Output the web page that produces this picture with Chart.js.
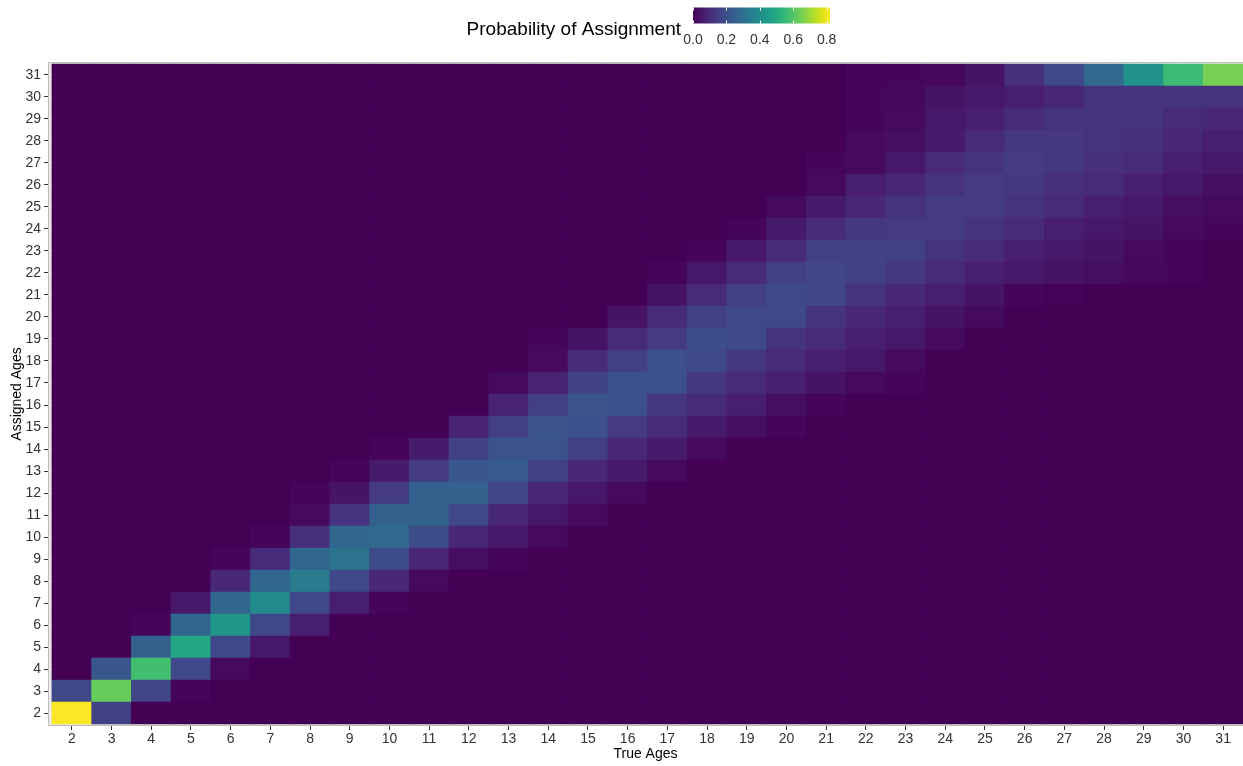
<!DOCTYPE html>
<html>
<head>
<meta charset="utf-8">
<script src="https://cdn.jsdelivr.net/npm/chart.js@4.4.1/dist/chart.umd.min.js"></script>
<style>
  html, body { margin: 0; padding: 0; background: #ffffff; }
  #wrap { width: 1243px; height: 766px; }
</style>
</head>
<body>
<div id="wrap"><canvas id="heat" width="1243" height="766"></canvas></div>
<script>
// Axis categories
const trueAges     = [2,3,4,5,6,7,8,9,10,11,12,13,14,15,16,17,18,19,20,21,22,23,24,25,26,27,28,29,30,31];
const assignedAges = [2,3,4,5,6,7,8,9,10,11,12,13,14,15,16,17,18,19,20,21,22,23,24,25,26,27,28,29,30,31];
const legendTicks  = [0, 0.2, 0.4, 0.6, 0.8];

// P(assigned age | true age): one array per true age, entries for assigned ages 2..31
//                  2..11                                                  12..21                                                  22..31
const pTrue02 = [0.82,0.18,0,0,0,0,0,0,0,0,                           0,0,0,0,0,0,0,0,0,0,                                      0,0,0,0,0,0,0,0,0,0];
const pTrue03 = [0.15,0.63,0.22,0,0,0,0,0,0,0,                        0,0,0,0,0,0,0,0,0,0,                                      0,0,0,0,0,0,0,0,0,0];
const pTrue04 = [0,0.17,0.57,0.25,0.01,0,0,0,0,0,                     0,0,0,0,0,0,0,0,0,0,                                      0,0,0,0,0,0,0,0,0,0];
const pTrue05 = [0,0.01,0.18,0.49,0.27,0.05,0,0,0,0,                  0,0,0,0,0,0,0,0,0,0,                                      0,0,0,0,0,0,0,0,0,0];
const pTrue06 = [0,0,0.02,0.18,0.43,0.27,0.09,0.01,0,0,               0,0,0,0,0,0,0,0,0,0,                                      0,0,0,0,0,0,0,0,0,0];
const pTrue07 = [0,0,0,0.05,0.18,0.39,0.27,0.10,0.01,0,               0,0,0,0,0,0,0,0,0,0,                                      0,0,0,0,0,0,0,0,0,0];
const pTrue08 = [0,0,0,0,0.07,0.18,0.34,0.27,0.11,0.02,               0.01,0,0,0,0,0,0,0,0,0,                                   0,0,0,0,0,0,0,0,0,0];
const pTrue09 = [0,0,0,0,0,0.07,0.18,0.31,0.27,0.12,                  0.04,0.01,0,0,0,0,0,0,0,0,                                0,0,0,0,0,0,0,0,0,0];
const pTrue10 = [0,0,0,0,0,0.01,0.09,0.19,0.28,0.25,                  0.14,0.06,0.01,0,0,0,0,0,0,0,                             0,0,0,0,0,0,0,0,0,0];
const pTrue11 = [0,0,0,0,0,0,0.02,0.09,0.19,0.26,                     0.25,0.14,0.06,0,0,0,0,0,0,0,                             0,0,0,0,0,0,0,0,0,0];
const pTrue12 = [0,0,0,0,0,0,0,0.03,0.09,0.18,                        0.25,0.22,0.15,0.08,0,0,0,0,0,0,                          0,0,0,0,0,0,0,0,0,0];
const pTrue13 = [0,0,0,0,0,0,0,0.01,0.05,0.09,                        0.17,0.23,0.21,0.15,0.08,0.02,0,0,0,0,                    0,0,0,0,0,0,0,0,0,0];
const pTrue14 = [0,0,0,0,0,0,0,0,0.02,0.05,                           0.09,0.16,0.21,0.21,0.15,0.08,0.02,0.01,0,0,              0,0,0,0,0,0,0,0,0,0];
const pTrue15 = [0,0,0,0,0,0,0,0,0,0.02,                              0.05,0.09,0.15,0.20,0.21,0.16,0.10,0.04,0,0,              0,0,0,0,0,0,0,0,0,0];
const pTrue16 = [0,0,0,0,0,0,0,0,0,0,                                 0.02,0.06,0.09,0.14,0.20,0.20,0.15,0.10,0.04,0,           0,0,0,0,0,0,0,0,0,0];
const pTrue17 = [0,0,0,0,0,0,0,0,0,0,                                 0,0.02,0.06,0.10,0.13,0.20,0.20,0.14,0.10,0.04,           0.01,0,0,0,0,0,0,0,0,0];
const pTrue18 = [0,0,0,0,0,0,0,0,0,0,                                 0,0,0.02,0.06,0.10,0.13,0.18,0.19,0.15,0.10,              0.05,0.01,0,0,0,0,0,0,0,0];
const pTrue19 = [0,0,0,0,0,0,0,0,0,0,                                 0,0,0,0.03,0.07,0.10,0.13,0.18,0.18,0.15,                 0.10,0.05,0.01,0,0,0,0,0,0,0];
const pTrue20 = [0,0,0,0,0,0,0,0,0,0,                                 0,0,0,0.01,0.03,0.07,0.10,0.12,0.18,0.18,                 0.15,0.10,0.06,0.02,0,0,0,0,0,0];
const pTrue21 = [0,0,0,0,0,0,0,0,0,0,                                 0,0,0,0,0.01,0.04,0.07,0.10,0.12,0.17,                    0.17,0.15,0.10,0.06,0.02,0.01,0,0,0,0];
const pTrue22 = [0,0,0,0,0,0,0,0,0,0,                                 0,0,0,0,0,0.02,0.05,0.07,0.09,0.12,                       0.16,0.16,0.13,0.09,0.07,0.02,0.02,0.01,0.01,0.01];
const pTrue23 = [0,0,0,0,0,0,0,0,0,0,                                 0,0,0,0,0,0.01,0.02,0.05,0.07,0.09,                       0.13,0.15,0.14,0.12,0.09,0.05,0.03,0.02,0.015,0.01];
const pTrue24 = [0,0,0,0,0,0,0,0,0,0,                                 0,0,0,0,0,0,0,0.02,0.04,0.07,                             0.10,0.12,0.14,0.14,0.12,0.10,0.06,0.05,0.04,0.015];
const pTrue25 = [0,0,0,0,0,0,0,0,0,0,                                 0,0,0,0,0,0,0,0,0.02,0.04,                                0.07,0.10,0.12,0.14,0.14,0.12,0.10,0.07,0.05,0.04];
const pTrue26 = [0,0,0,0,0,0,0,0,0,0,                                 0,0,0,0,0,0,0,0,0,0.01,                                   0.05,0.07,0.10,0.12,0.13,0.14,0.13,0.10,0.07,0.11];
const pTrue27 = [0,0,0,0,0,0,0,0,0,0,                                 0,0,0,0,0,0,0,0,0,0.005,                                  0.04,0.05,0.07,0.10,0.11,0.13,0.13,0.12,0.09,0.18];
const pTrue28 = [0,0,0,0,0,0,0,0,0,0,                                 0,0,0,0,0,0,0,0,0,0,                                      0.03,0.04,0.05,0.07,0.10,0.11,0.12,0.12,0.12,0.28];
const pTrue29 = [0,0,0,0,0,0,0,0,0,0,                                 0,0,0,0,0,0,0,0,0,0,                                      0.015,0.02,0.04,0.05,0.07,0.10,0.11,0.12,0.12,0.41];
const pTrue30 = [0,0,0,0,0,0,0,0,0,0,                                 0,0,0,0,0,0,0,0,0,0,                                      0.01,0.01,0.02,0.03,0.05,0.07,0.09,0.10,0.12,0.56];
const pTrue31 = [0,0,0,0,0,0,0,0,0,0,                                 0,0,0,0,0,0,0,0,0,0,                                      0,0,0.01,0.02,0.03,0.05,0.07,0.09,0.12,0.65];

const columns = [pTrue02,pTrue03,pTrue04,pTrue05,pTrue06,pTrue07,pTrue08,pTrue09,pTrue10,pTrue11,
                 pTrue12,pTrue13,pTrue14,pTrue15,pTrue16,pTrue17,pTrue18,pTrue19,pTrue20,pTrue21,
                 pTrue22,pTrue23,pTrue24,pTrue25,pTrue26,pTrue27,pTrue28,pTrue29,pTrue30,pTrue31];
const maxP = Math.max(...columns.flat());

// Viridis palette, evenly spaced stops
const viridisStops = ['#440154','#471365','#482475','#463480','#414487','#3b528b','#355f8d',
                      '#2f6c8e','#2a788e','#25848e','#21918c','#1e9c89','#22a884','#2fb47c',
                      '#44bf70','#5ec962','#7ad151','#9bd93c','#bddf26','#dfe318','#fde725'];
const stopRgb = viridisStops.map(h => [1,3,5].map(i => parseInt(h.substr(i, 2), 16)));
function viridis(t) {
  t = Math.max(0, Math.min(1, t));
  const pos = t * (stopRgb.length - 1);
  const i = Math.min(Math.floor(pos), stopRgb.length - 2);
  const f = pos - i;
  const c = stopRgb[i].map((v, k) => Math.round(v + (stopRgb[i + 1][k] - v) * f));
  return `rgb(${c[0]},${c[1]},${c[2]})`;
}

// One row of tiles per assigned age, each tile a floating bar spanning that age
const datasets = assignedAges.map((a, j) => ({
  label: 'Assigned ' + a,
  data: trueAges.map(t => ({ x: t, y: [a - 0.5, a + 0.5] })),
  backgroundColor: columns.map(col => viridis(col[j] / maxP)),
  borderWidth: 0,
  grouped: false,
  barPercentage: 1,
  categoryPercentage: 1
}));

const FONT = "'Liberation Sans', Arial, Helvetica, sans-serif";
Chart.defaults.font.family = FONT;

const panelPlugin = {
  id: 'panel',
  beforeDraw(chart) {
    const { ctx, chartArea: a } = chart;
    ctx.save();
    ctx.fillStyle = '#ebebeb';
    ctx.fillRect(a.left, a.top, a.right - a.left, a.bottom - a.top);
    ctx.restore();
  },
  beforeDatasetsDraw(chart) {
    const { ctx } = chart;
    const xs = chart.scales.x, ys = chart.scales.y;
    const x0 = xs.getPixelForValue(trueAges[0] - 0.5);
    const x1 = xs.getPixelForValue(trueAges[trueAges.length - 1] + 0.5);
    const y0 = ys.getPixelForValue(assignedAges[assignedAges.length - 1] + 0.5);
    const y1 = ys.getPixelForValue(assignedAges[0] - 0.5);
    ctx.save();
    ctx.fillStyle = viridis(0);
    ctx.fillRect(x0, y0, x1 - x0, y1 - y0);
    ctx.restore();
  },
  afterDraw(chart) {
    const { ctx, chartArea: a } = chart;
    ctx.save();
    // panel border
    ctx.strokeStyle = '#bdbdbd';
    ctx.lineWidth = 1;
    ctx.strokeRect(a.left + 0.5, a.top + 0.5, a.right - a.left, a.bottom - a.top - 1);

    // colour bar legend
    const barL = 693, barR = 830, barT = 7.5, barB = 23.5;
    const grad = ctx.createLinearGradient(barL, 0, barR, 0);
    viridisStops.forEach((c, i) => grad.addColorStop(i / (viridisStops.length - 1), c));
    ctx.fillStyle = grad;
    ctx.fillRect(barL, barT, barR - barL, barB - barT);

    ctx.strokeStyle = '#ffffff';
    ctx.lineWidth = 1;
    ctx.font = `14px ${FONT}`;
    ctx.fillStyle = '#333333';
    ctx.textAlign = 'center';
    ctx.textBaseline = 'alphabetic';
    legendTicks.forEach(v => {
      const x = Math.round(barL + (v / maxP) * (barR - barL)) + 0.5;
      ctx.beginPath();
      ctx.moveTo(x, barT); ctx.lineTo(x, barT + 3);
      ctx.moveTo(x, barB - 3); ctx.lineTo(x, barB);
      ctx.stroke();
      ctx.fillText(v.toFixed(1), barL + (v / maxP) * (barR - barL), 44);
    });

    ctx.font = `19px ${FONT}`;
    ctx.fillStyle = '#000000';
    ctx.textAlign = 'right';
    ctx.fillText('Probability of Assignment', 681, 35);
    ctx.restore();
  }
};

new Chart(document.getElementById('heat'), {
  type: 'bar',
  data: { datasets },
  options: {
    responsive: false,
    devicePixelRatio: 1,
    animation: false,
    layout: { padding: { top: 62, right: 0, bottom: 0, left: 0 } },
    plugins: { legend: { display: false }, tooltip: { enabled: false } },
    scales: {
      x: {
        type: 'linear',
        min: 1.4,
        max: 31.5,
        bounds: 'data',
        offset: false,
        afterBuildTicks: s => { s.ticks = trueAges.map(v => ({ value: v })); },
        afterFit: s => { s.height = 40; },
        grid: { display: true, drawOnChartArea: true, offset: false, color: '#ffffff', tickColor: '#333333', tickLength: 4, lineWidth: 1 },
        border: { display: false },
        ticks: { autoSkip: false, maxRotation: 0, color: '#333333', font: { size: 14 }, padding: 1 },
        title: { display: true, text: 'True Ages', color: '#000000', font: { size: 14 }, padding: { top: 0, bottom: 3 } }
      },
      y: {
        type: 'linear',
        min: 1.41,
        max: 31.59,
        bounds: 'data',
        afterBuildTicks: s => { s.ticks = assignedAges.map(v => ({ value: v })); },
        afterFit: s => { s.width = 48; },
        grid: { display: true, drawOnChartArea: true, color: '#ffffff', tickColor: '#333333', tickLength: 4, lineWidth: 1 },
        border: { display: false },
        ticks: { autoSkip: false, color: '#333333', font: { size: 14 }, padding: 3 },
        title: { display: true, text: 'Assigned Ages', color: '#000000', font: { size: 14 }, padding: { top: 9, bottom: 0 } }
      }
    }
  },
  plugins: [panelPlugin]
});
</script>
</body>
</html>
